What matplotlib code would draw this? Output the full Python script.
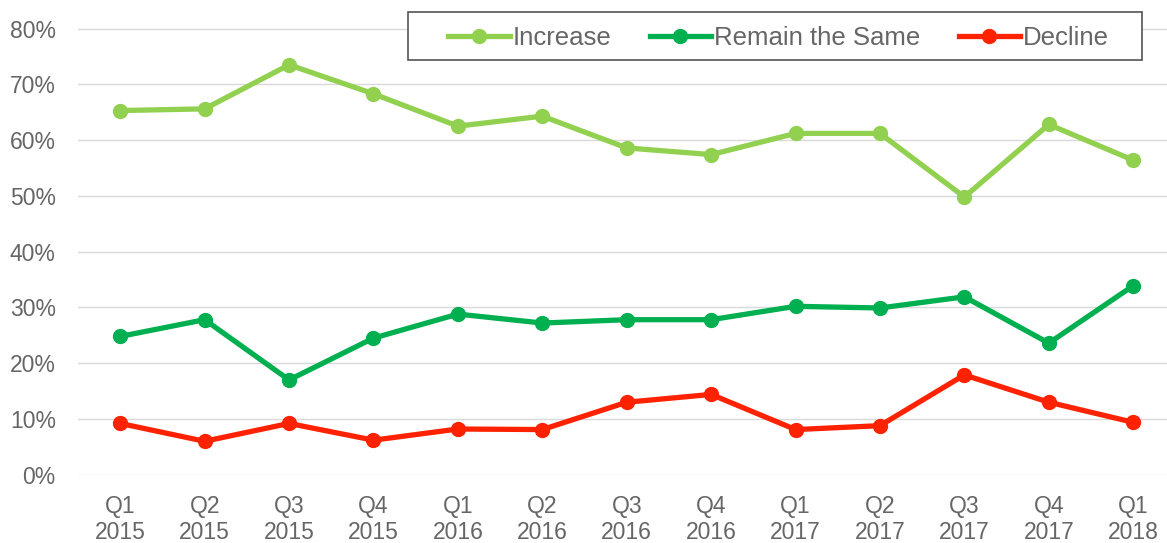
import matplotlib.pyplot as plt
from matplotlib.patches import Rectangle
from matplotlib.ticker import FuncFormatter

plt.rcParams["font.family"] = ["Liberation Sans", "DejaVu Sans"]

quarters = ["Q1\n2015", "Q2\n2015", "Q3\n2015", "Q4\n2015",
            "Q1\n2016", "Q2\n2016", "Q3\n2016", "Q4\n2016",
            "Q1\n2017", "Q2\n2017", "Q3\n2017", "Q4\n2017",
            "Q1\n2018"]
increase = [65.3, 65.6, 73.5, 68.3, 62.5, 64.3, 58.6, 57.4, 61.2, 61.2, 49.8, 62.8, 56.4]
remain = [24.8, 27.8, 17.0, 24.5, 28.8, 27.2, 27.8, 27.8, 30.2, 29.9, 31.9, 23.6, 33.9]
decline = [9.2, 6.0, 9.2, 6.2, 8.2, 8.1, 13.0, 14.4, 8.1, 8.8, 17.9, 13.0, 9.4]

TEXT = "#666666"
W, H = 1167, 543

fig = plt.figure(figsize=(W / 100, H / 100), dpi=100)
ax = fig.add_axes([78 / W, (H - 475.3) / H, (W - 78) / W, (475.3 - 28) / H])

x = range(len(quarters))
series = [("Increase", increase, "#92D050"),
          ("Remain the Same", remain, "#00B050"),
          ("Decline", decline, "#FF2200")]
for name, vals, col in series:
    ax.plot(x, vals, color=col, lw=3.8, marker="o", markersize=10,
            label=name, clip_on=False, zorder=3)

ax.set_xlim(-0.5, 12.4)
ax.set_ylim(-0.1, 80.1)
ax.set_yticks(range(0, 81, 10))
ax.yaxis.set_major_formatter(FuncFormatter(lambda v, _: f"{v:.0f}%"))
ax.set_xticks(list(x))
ax.set_xticklabels(quarters, linespacing=1.2)
ax.tick_params(axis="both", length=0, labelsize=16.5, colors=TEXT)
ax.tick_params(axis="y", pad=16)
ax.tick_params(axis="x", pad=14)
ax.grid(axis="y", color="#D9D9D9", lw=1.0, zorder=0)
for sp in ax.spines.values():
    sp.set_visible(False)

# legend box drawn separately: wider side margins than matplotlib's uniform pad
fig.patches.append(Rectangle((408 / W, 1 - 60 / H), (1142 - 408) / W, 48 / H,
                             transform=fig.transFigure, facecolor="white",
                             edgecolor="#555555", linewidth=1.2, zorder=5))
leg = fig.legend(loc="center", bbox_to_anchor=(778.5 / W, 1 - 38 / H),
                 ncol=3, frameon=False, fontsize=18.5, handlelength=2.4,
                 handletextpad=0.1, columnspacing=1.5, borderpad=0.0)
leg.set_zorder(6)
for t in leg.get_texts():
    t.set_color(TEXT)

fig.savefig("out.png", dpi=100)
